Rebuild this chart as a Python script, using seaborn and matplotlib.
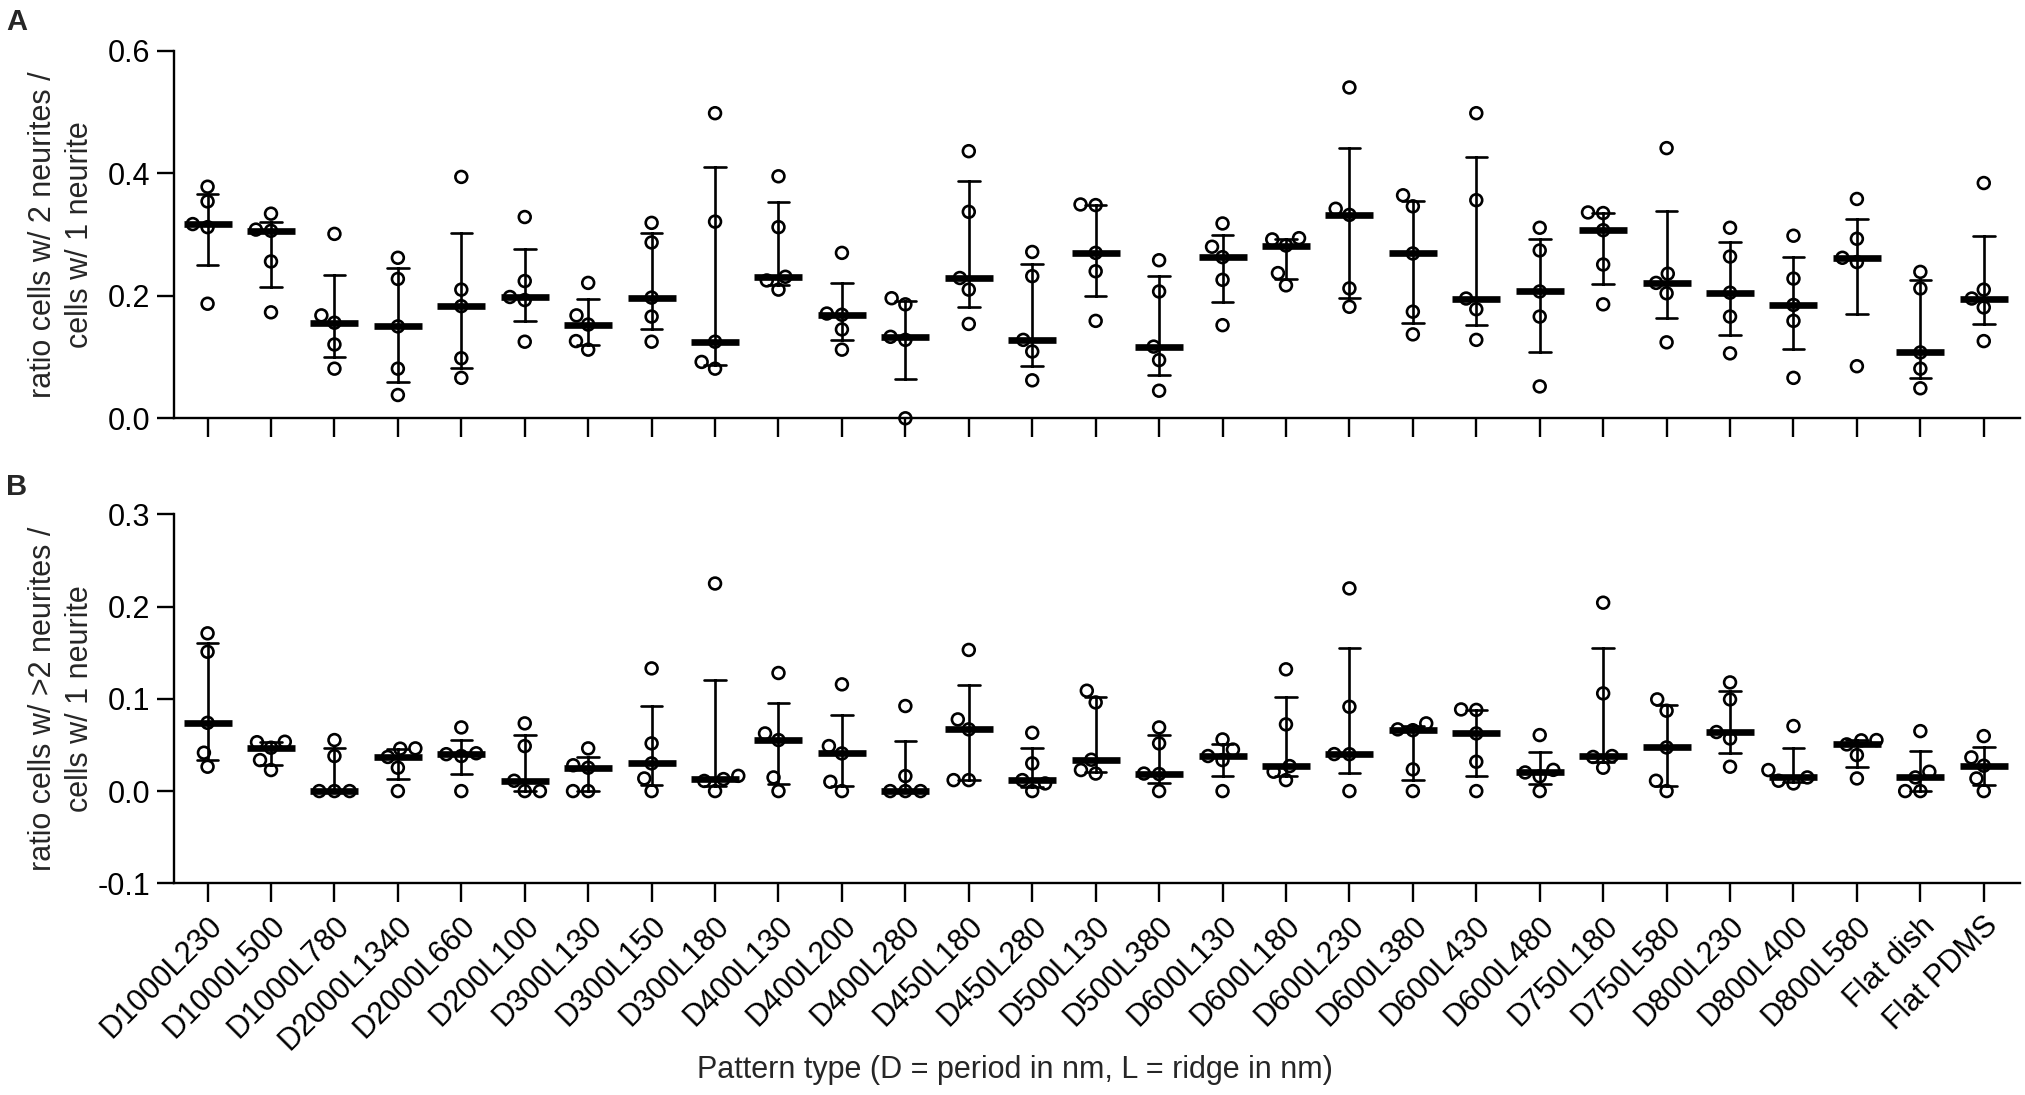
import numpy as np
import pandas as pd
import matplotlib
matplotlib.use("Agg")
import matplotlib.pyplot as plt
import matplotlib.transforms as mtransforms
import seaborn as sns

# ---------------- data ----------------
patterns = ["D1000L230", "D1000L500", "D1000L780", "D2000L1340", "D2000L660",
            "D200L100", "D300L130", "D300L150", "D300L180", "D400L130",
            "D400L200", "D400L280", "D450L180", "D450L280", "D500L130",
            "D500L380", "D600L130", "D600L180", "D600L230", "D600L380",
            "D600L430", "D600L480", "D750L180", "D750L580", "D800L230",
            "D800L400", "D800L580", "Flat dish", "Flat PDMS"]

# ratio cells with 2 neurites / cells with 1 neurite (5 replicates per pattern)
ratio_2_neurites = [
    [0.378, 0.354, 0.317, 0.312, 0.187],
    [0.334, 0.308, 0.306, 0.256, 0.173],
    [0.301, 0.168, 0.156, 0.1205, 0.081],
    [0.262, 0.2275, 0.150, 0.081, 0.038],
    [0.394, 0.210, 0.183, 0.098, 0.066],
    [0.3285, 0.224, 0.198, 0.193, 0.125],
    [0.221, 0.168, 0.153, 0.126, 0.112],
    [0.319, 0.287, 0.197, 0.166, 0.125],
    [0.498, 0.321, 0.125, 0.092, 0.081],
    [0.395, 0.312, 0.231, 0.225, 0.210],
    [0.270, 0.171, 0.169, 0.145, 0.112],
    [0.196, 0.186, 0.133, 0.128, 0.0],
    [0.436, 0.337, 0.229, 0.210, 0.154],
    [0.2715, 0.232, 0.128, 0.109, 0.062],
    [0.349, 0.348, 0.270, 0.240, 0.159],
    [0.258, 0.207, 0.117, 0.095, 0.045],
    [0.318, 0.280, 0.263, 0.226, 0.152],
    [0.294, 0.292, 0.282, 0.237, 0.217],
    [0.540, 0.342, 0.332, 0.212, 0.182],
    [0.364, 0.346, 0.269, 0.174, 0.137],
    [0.498, 0.356, 0.1955, 0.178, 0.128],
    [0.311, 0.274, 0.207, 0.166, 0.052],
    [0.336, 0.335, 0.307, 0.251, 0.186],
    [0.441, 0.236, 0.221, 0.204, 0.124],
    [0.311, 0.264, 0.205, 0.166, 0.106],
    [0.298, 0.228, 0.185, 0.159, 0.066],
    [0.358, 0.293, 0.262, 0.255, 0.085],
    [0.239, 0.212, 0.1075, 0.081, 0.049],
    [0.384, 0.210, 0.1955, 0.181, 0.126],
]

# ratio cells with >2 neurites / cells with 1 neurite
ratio_gt2_neurites = [
    [0.171, 0.151, 0.074, 0.0416, 0.0264],
    [0.0535, 0.053, 0.047, 0.0336, 0.0228],
    [0.0553, 0.038, 0.0, 0.0, 0.0],
    [0.0463, 0.046, 0.037, 0.0253, 0.0],
    [0.069, 0.041, 0.040, 0.038, 0.0],
    [0.0734, 0.0488, 0.0112, 0.0, 0.0],
    [0.0463, 0.028, 0.0253, 0.0, 0.0],
    [0.133, 0.0517, 0.030, 0.0137, 0.0],
    [0.225, 0.0165, 0.013, 0.011, 0.0],
    [0.128, 0.0625, 0.0553, 0.0148, 0.0],
    [0.1157, 0.0488, 0.0408, 0.0101, 0.0],
    [0.0922, 0.0163, 0.0, 0.0, 0.0],
    [0.153, 0.0777, 0.0669, 0.0119, 0.0119],
    [0.0632, 0.030, 0.0119, 0.0083, 0.0],
    [0.1088, 0.0961, 0.034, 0.0228, 0.019],
    [0.069, 0.0517, 0.019, 0.0185, 0.0],
    [0.056, 0.045, 0.038, 0.0336, 0.0],
    [0.132, 0.0723, 0.0271, 0.021, 0.0119],
    [0.2197, 0.0914, 0.0401, 0.040, 0.0],
    [0.0734, 0.0669, 0.066, 0.0235, 0.0],
    [0.0885, 0.088, 0.0625, 0.0318, 0.0],
    [0.0607, 0.023, 0.0202, 0.016, 0.0],
    [0.2042, 0.1059, 0.038, 0.037, 0.0253],
    [0.0994, 0.0871, 0.0473, 0.0112, 0.0],
    [0.1178, 0.0994, 0.064, 0.057, 0.0264],
    [0.0705, 0.0228, 0.0148, 0.0112, 0.0083],
    [0.0553, 0.055, 0.0506, 0.039, 0.0137],
    [0.065, 0.021, 0.0148, 0.0, 0.0],
    [0.0596, 0.0365, 0.0275, 0.0137, 0.0],
]

yticks_a = [0.0, 0.2, 0.4, 0.6]
yticks_b = [-0.1, 0.0, 0.1, 0.2, 0.3]
ylabel_a = "ratio cells w/ 2 neurites /\ncells w/ 1 neurite"
ylabel_b = "ratio cells w/ >2 neurites /\ncells w/ 1 neurite"
xlabel = "Pattern type (D = period in nm, L = ridge in nm)"


def long_table(values):
    rows = [(p, v) for p, vals in zip(patterns, values) for v in vals]
    return pd.DataFrame(rows, columns=["pattern", "ratio"])


def interquartile(v):
    return (np.percentile(v, 25, method="weibull"),
            np.percentile(v, 75, method="weibull"))


# ---------------- style ----------------
sns.set_style("ticks")
plt.rcParams["font.family"] = ["Liberation Sans", "DejaVu Sans"]
plt.rcParams.update({
    "axes.linewidth": 1.7,
    "xtick.major.width": 1.7,
    "ytick.major.width": 1.7,
    "xtick.color": "black",
    "ytick.color": "black",
    "axes.edgecolor": "black",
    "font.size": 22,
})

fig = plt.figure(figsize=(20.25, 10.95), dpi=100)
ax_a = fig.add_axes([0.0859, 0.618, 0.9116, 0.3357])
ax_b = fig.add_axes([0.0859, 0.1933, 0.9116, 0.337])


def draw_panel(ax, values, ylim, yticks, ylabel):
    df = long_table(values)
    sns.swarmplot(data=df, x="pattern", y="ratio", order=patterns,
                  color="black", edgecolor="black", size=8.5, linewidth=1.9,
                  ax=ax, zorder=3)
    for coll in ax.collections:
        coll.set_facecolor("none")
        coll.set_edgecolor("black")
        coll.set_clip_on(False)
    sns.pointplot(data=df, x="pattern", y="ratio", order=patterns,
                  estimator="median", errorbar=interquartile,
                  color="black", linestyle="none", marker="_",
                  markersize=34, markeredgewidth=4.8, capsize=0.34,
                  err_kws={"linewidth": 1.9}, ax=ax, zorder=4)
    for ln in ax.lines:
        ln.set_clip_on(False)
    ax.set_xlim(-0.53, 28.57)
    ax.set_ylim(*ylim)
    ax.set_yticks(yticks)
    ax.set_yticklabels([f"{t:.1f}" for t in yticks])
    ax.spines[["top", "right"]].set_visible(False)
    ax.tick_params(axis="y", length=12, width=1.7, labelsize=22, pad=5)
    ax.tick_params(axis="x", length=13.5, width=1.7, labelsize=22)
    ax.set_xlabel("")
    ax.set_ylabel(ylabel, fontsize=22, linespacing=1.3, multialignment="center")
    ax.yaxis.set_label_coords(-0.043, 0.5)


draw_panel(ax_a, ratio_2_neurites, (0.0, 0.6), yticks_a, ylabel_a)
draw_panel(ax_b, ratio_gt2_neurites, (-0.1, 0.3), yticks_b, ylabel_b)

ax_a.tick_params(axis="x", labelbottom=False)

ax_b.tick_params(axis="x", pad=14)
ax_b.set_xticks(range(len(patterns)))
ax_b.set_xticklabels(patterns, rotation=45, ha="right", va="center",
                     rotation_mode="anchor")
shift = mtransforms.ScaledTranslation(7.2 / 72, 0, fig.dpi_scale_trans)
for lab in ax_b.get_xticklabels():
    lab.set_transform(lab.get_transform() + shift)

ax_b.set_xlabel(xlabel, fontsize=22)
ax_b.xaxis.set_label_coords(0.4556, -0.465)

fig.text(6 / 2025, 1 - 8 / 1095, "A", fontsize=21, fontweight="bold",
         ha="left", va="top")
fig.text(6 / 2025, 1 - 473 / 1095, "B", fontsize=21, fontweight="bold",
         ha="left", va="top")

fig.savefig("out.png", dpi=100)
